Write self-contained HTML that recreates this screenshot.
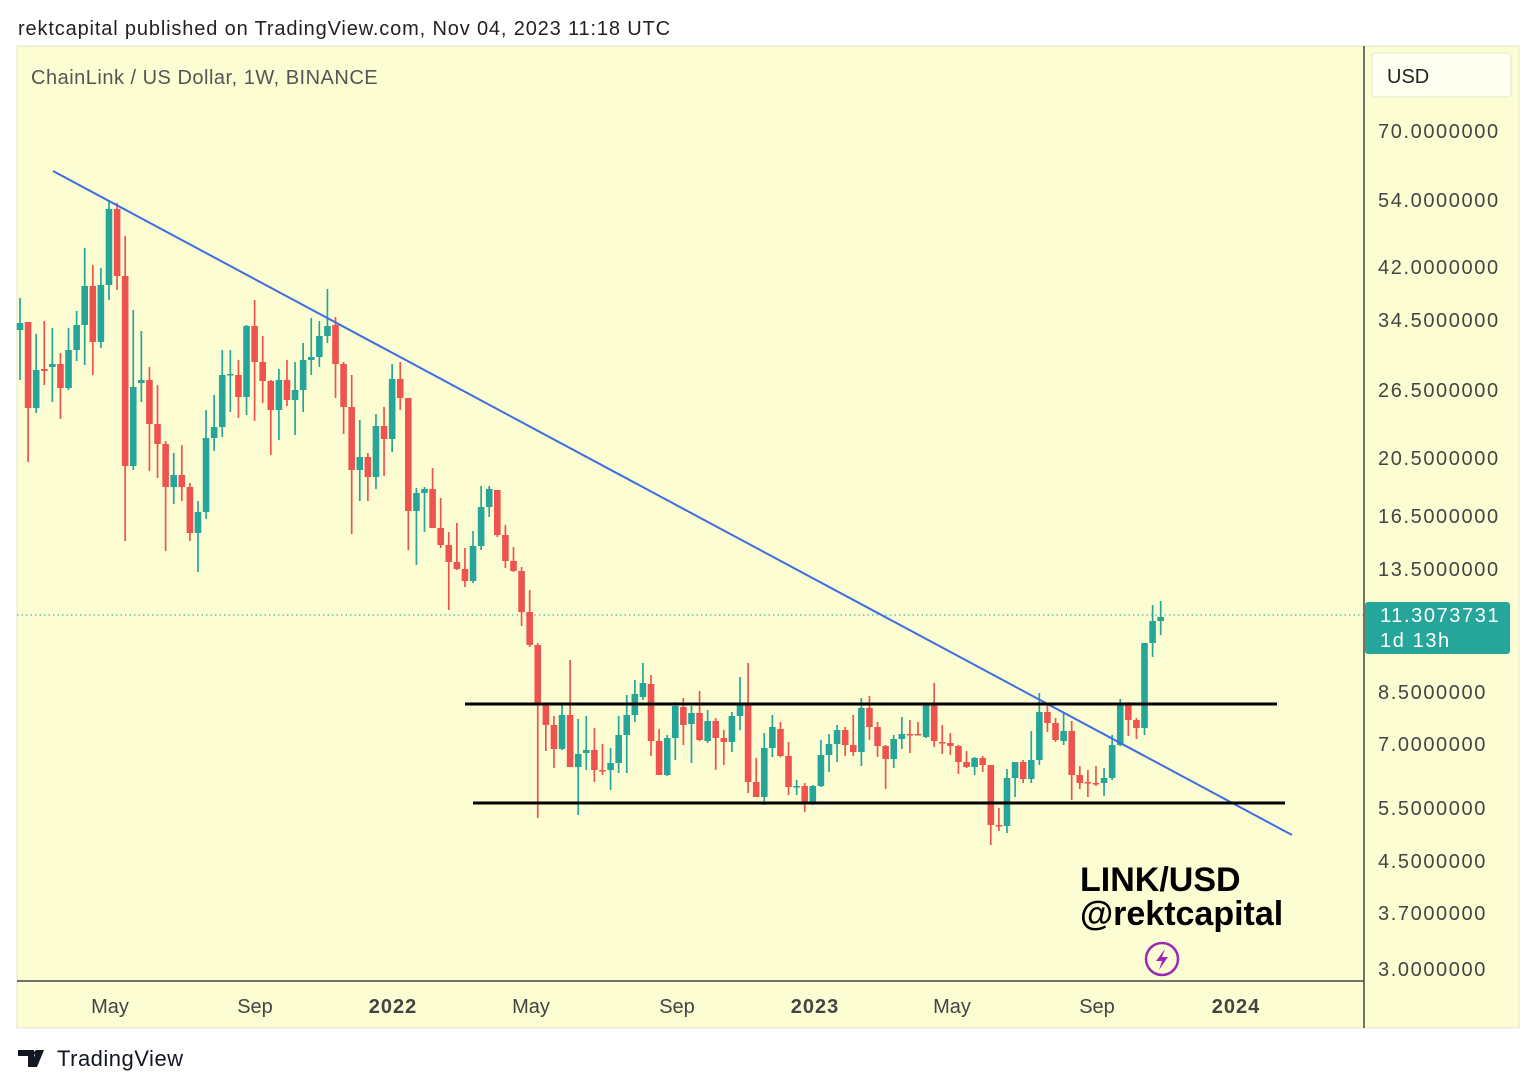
<!DOCTYPE html>
<html><head><meta charset="utf-8"><style>
body{margin:0;width:1536px;height:1089px;background:#fff;font-family:"Liberation Sans",sans-serif;overflow:hidden;position:relative}
.t{position:absolute;white-space:nowrap}
</style></head><body>
<div class="t" style="left:18px;top:18px;font-size:20px;color:#222;letter-spacing:0.85px">rektcapital published on TradingView.com, Nov 04, 2023 11:18 UTC</div>
<svg id="s" width="1536" height="1089" style="position:absolute;left:0;top:0" xmlns="http://www.w3.org/2000/svg"></svg>
<script>
const D=[
['g',330,323,298,380],['r',322,408,322,462],['g',408,370,334,413],['r',369,371,321,385],['g',367,364,328,402],['r',364,388,353,419],['g',388,350,328,390],['g',350,325,311,361],['g',325,286,248,365],['r',286,342,265,375],
['g',342,285,268,348],['g',285,209,200,300],['r',209,276,203,290],['r',276,466,236,541],['g',466,387,310,470],['g',383,380,331,402],['r',380,424,367,471],['r',424,444,385,478],['r',444,487,441,551],['g',487,475,453,504],
['r',475,487,445,501],['r',487,533,483,541],['g',533,512,501,572],['g',512,438,410,519],['g',438,427,395,451],['g',427,375,350,437],['g',375,374,350,412],['r',375,397,360,418],['g',397,326,325,415],['r',326,362,300,421],
['r',362,381,336,403],['r',381,410,380,455],['g',410,380,369,440],['r',380,400,360,406],['g',400,390,362,435],['g',390,360,343,412],['g',360,357,318,375],['g',357,336,321,367],['g',336,326,289,343],['r',325,364,317,398],
['r',364,407,362,434],['r',407,470,375,534],['g',470,457,420,501],['r',457,477,453,501],['g',477,426,414,489],['r',426,439,407,476],['g',439,379,364,452],['r',379,398,362,410],['r',398,511,398,550],['g',511,493,488,565],
['g',493,489,487,532],['r',489,528,468,528],['r',528,545,498,548],['r',545,562,532,610],['r',562,569,523,570],['r',569,581,548,587],['g',581,546,531,583],['g',546,507,486,550],['g',507,489,486,517],['r',490,535,490,537],
['r',535,561,525,568],['r',561,571,547,572],['r',571,612,567,626],['r',612,645,590,647],['r',645,704,643,818],['r',704,725,704,751],['r',725,749,716,768],['g',749,715,705,750],['r',715,767,660,767],['g',767,754,719,815],
['g',753,750,716,770],['r',750,770,728,782],['r',770,771,744,775],['g',770,763,748,790],['g',763,735,716,773],['g',735,715,695,773],['g',715,694,680,722],['g',697,683,663,700],['r',684,741,675,756],['r',741,775,729,775],
['g',775,738,735,776],['g',738,706,702,760],['r',707,725,698,745],['g',724,713,706,763],['r',713,740,691,741],['g',741,721,710,743],['r',721,738,718,770],['r',738,742,730,765],['g',742,716,712,752],['g',716,704,677,730],
['r',704,782,663,793],['r',782,797,758,797],['g',797,748,733,805],['g',748,727,715,757],['r',729,756,722,757],['r',756,787,742,795],['g',787,786,780,795],['r',786,803,783,812],['g',803,786,785,805],['g',786,755,740,787],
['g',755,744,734,772],['g',744,730,725,762],['r',730,745,727,756],['r',745,752,715,756],['g',752,708,698,766],['r',708,727,696,740],['r',727,746,722,757],['r',746,759,745,789],['g',759,739,735,768],['g',739,734,717,749],
['r',734,735,720,753],['r',734,735,722,735],['g',737,705,703,738],['r',704,741,683,747],['r',742,743,725,754],['r',743,746,733,755],['r',746,762,745,774],['r',762,767,751,768],['g',767,758,757,775],['r',758,765,756,772],
['r',765,825,765,845],['r',825,826,808,831],['g',826,778,769,833],['g',778,762,762,797],['r',762,779,760,783],['g',779,760,731,783],['g',760,712,693,765],['r',712,723,705,732],['r',723,740,718,742],['g',741,731,712,745],
['r',731,775,721,800],['r',775,783,766,789],['r',782,783,770,797],['r',783,784,766,786],['g',783,778,768,796],['g',778,745,735,780],['g',745,705,699,746],['r',705,720,702,736],['r',720,728,718,739],['g',728,643,643,735],
['g',643,621,605,657],['g',621,617,601,635]];
let h='';
const BG='#fdfdd4';
h+=`<rect x="17" y="46" width="1502" height="982" fill="${BG}" stroke="#e4e4c8"/>`;
h+=`<line x1="17" y1="615" x2="1364" y2="615" stroke="#26a69a" stroke-width="1" stroke-dasharray="1.5,3"/>`;
D.forEach((d,i)=>{const x=20+i*8.09;const c=d[0]=='g'?'#26a69a':'#ef5350';
const t=Math.min(d[1],d[2]),b=Math.max(d[1],d[2]);
h+=`<line x1="${x}" y1="${d[3]}" x2="${x}" y2="${d[4]}" stroke="${c}" stroke-width="1.7"/>`;
h+=`<rect x="${x-3.3}" y="${t}" width="6.6" height="${Math.max(b-t,1.5)}" fill="${c}"/>`;});
h+=`<line x1="53" y1="171" x2="1292" y2="835" stroke="#3d6ee0" stroke-width="2"/>`;
h+=`<line x1="465" y1="704" x2="1277" y2="704" stroke="#000" stroke-width="3"/>`;
h+=`<line x1="473" y1="803" x2="1285" y2="803" stroke="#000" stroke-width="3"/>`;
h+=`<line x1="1364" y1="46" x2="1364" y2="1028" stroke="#444" stroke-width="1.5"/>`;
h+=`<line x1="17" y1="981" x2="1364" y2="981" stroke="#444" stroke-width="1.5"/>`;
h+=`<rect x="1372" y="53" width="139" height="44" rx="4" fill="#fffff2" stroke="#e6e6cc"/>`;
h+=`<text x="1387" y="83" font-size="20" fill="#222">USD</text>`;
[['70.0000000',131],['54.0000000',200],['42.0000000',267],['34.5000000',320],['26.5000000',390],['20.5000000',458],['16.5000000',516],['13.5000000',569],['8.5000000',692],['7.0000000',744],['5.5000000',808],['4.5000000',861],['3.7000000',913],['3.0000000',969]].forEach(p=>{
h+=`<text x="1378" y="${p[1]+7}" font-size="20" fill="#444" letter-spacing="1.6">${p[0]}</text>`;});
h+=`<rect x="1365" y="602" width="145" height="52" rx="3" fill="#26a69a"/>`;
h+=`<text x="1380" y="622" font-size="20" fill="#fff" letter-spacing="1.6">11.3073731</text>`;
h+=`<text x="1380" y="647" font-size="20" fill="#fff" letter-spacing="1.6">1d 13h</text>`;
[['May',110,0],['Sep',255,0],['2022',393,1],['May',531,0],['Sep',677,0],['2023',815,1],['May',952,0],['Sep',1097,0],['2024',1236,1]].forEach(p=>{
h+=`<text x="${p[1]}" y="1013" font-size="20" fill="#444" text-anchor="middle" ${p[2]?'font-weight="bold" letter-spacing="1"':''}>${p[0]}</text>`;});
h+=`<text x="31" y="84" font-size="20" fill="#555" letter-spacing="0.5">ChainLink / US Dollar, 1W, BINANCE</text>`;
h+=`<text x="1080" y="891" font-size="34" font-weight="bold" fill="#000">LINK/USD</text>`;
h+=`<text x="1080" y="925" font-size="34" font-weight="bold" fill="#000">@rektcapital</text>`;
h+=`<circle cx="1162" cy="959" r="16" fill="none" stroke="#9c27b0" stroke-width="2.5"/>`;
h+=`<path d="M1165 949 L1156 961 L1162 961 L1159 970 L1168 957 L1162 957 Z" fill="#9c27b0"/>`;
h+=`<path d="M18 1050 h16 v17 h-6 v-11 h-10 z M37 1050 h7 l-7 17 h-7 z" fill="#131722"/><circle cx="37" cy="1053" r="3" fill="#131722"/>`;
h+=`<text x="57" y="1066" font-size="22" fill="#131722" letter-spacing="0.5">TradingView</text>`;
document.getElementById('s').innerHTML=h;
</script>
</body></html>
